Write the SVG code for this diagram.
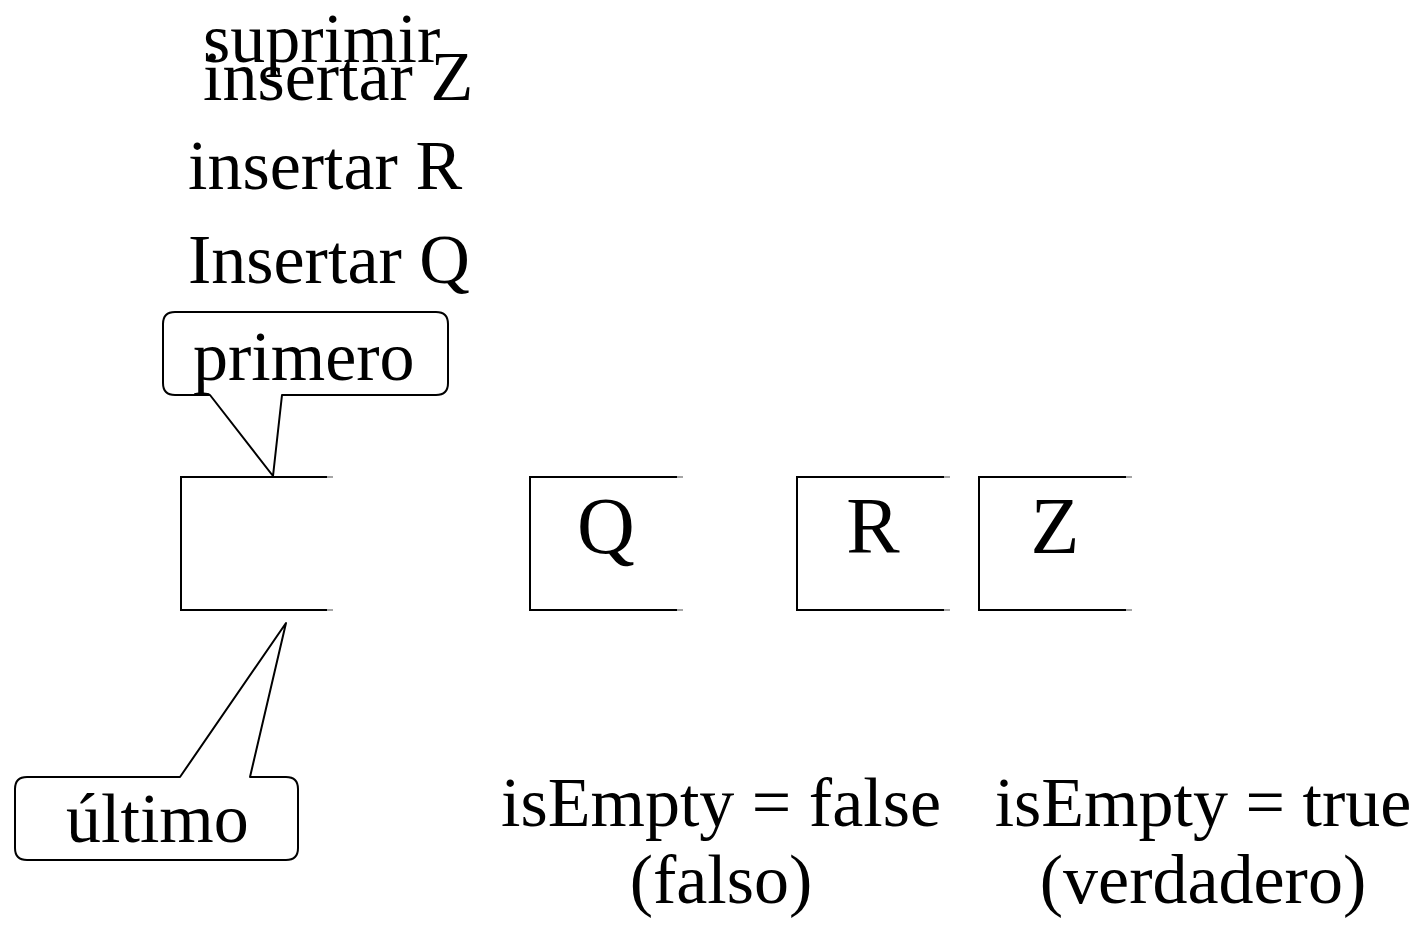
<svg xmlns="http://www.w3.org/2000/svg" width="1426" height="925" viewBox="0 0 1426 925">
<style>
text { font-family: "Liberation Serif", "Times New Roman", serif; fill: #000; }
.t70 { font-size: 70px; }
.t80 { font-size: 80px; }
.box { fill: none; stroke: #000; stroke-width: 2; }
.tail { fill: none; stroke: #888; stroke-width: 1.5; }
.callout { fill: #fff; stroke: #000; stroke-width: 2; stroke-linejoin: round; }
</style>
<rect width="1426" height="925" fill="#fff"/>
<g id="operations">
  <text class="t70" x="203" y="62">suprimir</text>
  <text class="t70" x="203" y="100">insertar Z</text>
  <text class="t70" x="188" y="189">insertar R</text>
  <text class="t70" x="188" y="283">Insertar Q</text>
</g>
<g id="cell-empty">
  <path class="box" d="M327,477 H181 V610 H327"/>
  <path class="tail" d="M327,477 H333 M327,610 H333"/>
</g>
<g id="cell-Q">
  <path class="box" d="M677,477 H530 V610 H677"/>
  <path class="tail" d="M677,477 H683 M677,610 H683"/>
  <text class="t80" x="606" y="553" text-anchor="middle">Q</text>
</g>
<g id="cell-R">
  <path class="box" d="M944,477 H797 V610 H944"/>
  <path class="tail" d="M944,477 H950 M944,610 H950"/>
  <text class="t80" x="873" y="553" text-anchor="middle">R</text>
</g>
<g id="cell-Z">
  <path class="box" d="M1126,477 H979 V610 H1126"/>
  <path class="tail" d="M1126,477 H1132 M1126,610 H1132"/>
  <text class="t80" x="1055" y="553" text-anchor="middle">Z</text>
</g>
<g id="callout-primero">
  <path class="callout" d="M175,312 H436 Q448,312 448,324 V383 Q448,395 436,395 H282 L273,476 L210,395 H175 Q163,395 163,383 V324 Q163,312 175,312 Z"/>
  <text class="t70" x="193" y="380">primero</text>
</g>
<g id="callout-ultimo">
  <path class="callout" d="M27,777 H180 L286,623 L250,777 H286 Q298,777 298,789 V848 Q298,860 286,860 H27 Q15,860 15,848 V789 Q15,777 27,777 Z"/>
  <text class="t70" x="66" y="842">último</text>
</g>
<g id="state-false">
  <text class="t70" x="721" y="826" text-anchor="middle">isEmpty = false</text>
  <text class="t70" x="721" y="903" text-anchor="middle">(falso)</text>
</g>
<g id="state-true">
  <text class="t70" x="1203" y="826" text-anchor="middle">isEmpty = true</text>
  <text class="t70" x="1203" y="903" text-anchor="middle">(verdadero)</text>
</g>
<g id="connectors"/>
</svg>
